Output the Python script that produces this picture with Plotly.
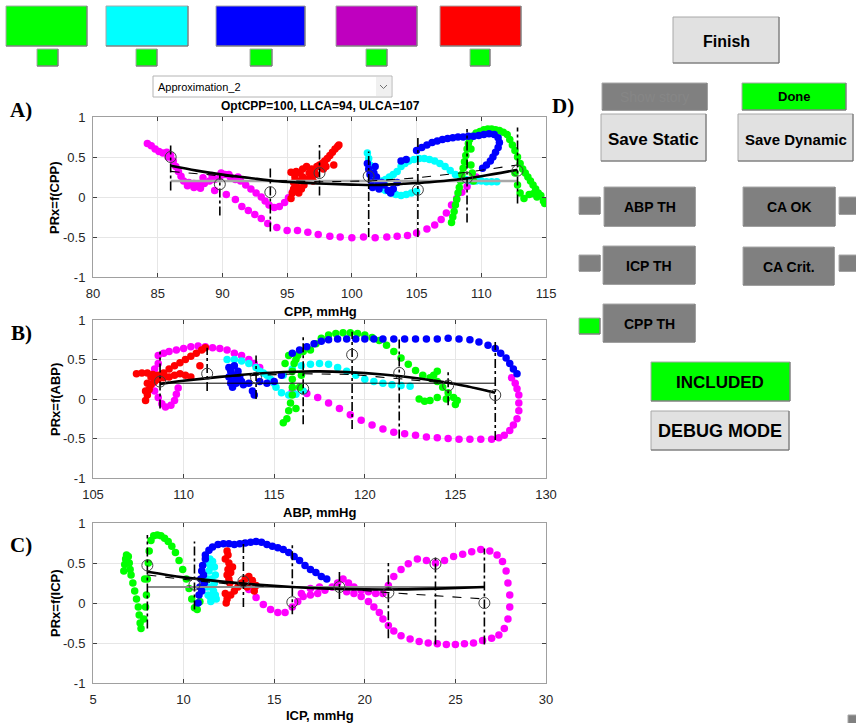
import plotly.graph_objects as go

W, H = 856, 723
SANS = "Liberation Sans, Arial, sans-serif"
SERIF = "Liberation Serif, Times New Roman, serif"

GREEN, CYAN, BLUE, MAGENTA, RED = "#00ff00", "#00ffff", "#0000ff", "#ff00ff", "#ff0000"

# ---------------- Panel A: PRx versus CPP ----------------
A_MAG_X = [84.2, 84.5, 84.8, 85.1, 85.4, 85.7, 86.0, 85.8, 86.2, 86.4, 86.6, 86.8, 87.0, 87.4, 87.8, 88.2,
           88.6, 89.0, 89.4, 89.8, 90.2, 90.6, 91.0, 91.4, 91.8, 92.2, 92.6, 93.0, 93.3, 93.6, 94.0, 94.4,
           94.8, 95.1, 95.4, 95.6, 88.5, 89.2, 89.9, 90.5, 91.2, 87.3, 87.8, 88.3,
           89.4, 90.3, 91.0, 91.5, 92.0, 92.5, 93.0, 93.5, 94.2, 95.0, 95.8, 96.6, 97.4, 98.3, 99.1, 100.0,
           100.9, 101.8, 102.7, 103.5, 104.3, 105.0, 105.8, 106.4, 106.9, 107.3, 107.7, 108.1, 108.5, 108.9,
           109.3, 109.6]
A_MAG_Y = [0.67, 0.64, 0.60, 0.57, 0.55, 0.56, 0.52, 0.50, 0.45, 0.38, 0.32, 0.26, 0.20, 0.18, 0.17, 0.16,
           0.17, 0.20, 0.22, 0.25, 0.28, 0.25, 0.22, 0.20, 0.15, 0.10, 0.05, 0.00, -0.05, -0.10, -0.13, -0.12,
           -0.07, -0.01, 0.06, 0.12, 0.24, 0.27, 0.30, 0.28, 0.25, 0.14, 0.12, 0.11,
           0.08, 0.03, -0.03, -0.12, -0.17, -0.22, -0.27, -0.33, -0.38, -0.42, -0.42, -0.44, -0.47, -0.49, -0.50, -0.51,
           -0.50, -0.51, -0.50, -0.49, -0.48, -0.45, -0.40, -0.35, -0.28, -0.20, -0.10, -0.02, 0.06, 0.13,
           0.20, 0.25]

A_RED_X = [95.3, 95.4, 95.5, 95.5, 95.6, 95.3, 95.7, 96.0, 96.2, 96.0, 96.3, 96.5, 96.7, 96.9, 97.1, 97.3,
           97.5, 97.7, 97.9, 98.1, 98.3, 98.5, 98.7, 98.9, 99.0, 98.6, 97.0, 96.8, 95.8, 96.2, 96.5, 97.2,
           97.8, 98.0, 95.9, 96.1]
A_RED_Y = [-0.02, 0.05, 0.10, 0.18, 0.25, 0.31, 0.32, 0.30, 0.25, 0.20, 0.15, 0.22, 0.30, 0.35, 0.32, 0.38,
           0.40, 0.42, 0.45, 0.48, 0.52, 0.56, 0.60, 0.63, 0.65, 0.40, 0.20, 0.24, 0.12, 0.35, 0.38, 0.28,
           0.35, 0.38, 0.05, 0.10]

A_CYAN_X = [101.2, 101.3, 101.4, 101.5, 101.6, 101.8, 102.0, 102.3, 102.6, 102.9, 103.2, 103.5, 103.8, 104.1,
            104.4, 104.8, 105.2, 105.6, 106.0, 106.4, 106.8, 107.2, 107.6, 108.0, 108.4, 108.8, 109.2, 109.6,
            110.0, 110.4, 110.8, 111.2, 102.6, 103.0, 103.4, 103.8, 104.2, 104.6, 105.0, 102.2, 102.4]
A_CYAN_Y = [0.55, 0.48, 0.40, 0.32, 0.25, 0.20, 0.18, 0.20, 0.22, 0.25, 0.28, 0.32, 0.38, 0.42,
            0.45, 0.47, 0.48, 0.48, 0.47, 0.45, 0.42, 0.38, 0.33, 0.28, 0.24, 0.22, 0.20, 0.20,
            0.20, 0.19, 0.19, 0.19, 0.08, 0.05, 0.03, 0.02, 0.03, 0.05, 0.07, 0.12, 0.10]

A_BLUE_X = [101.2, 101.3, 101.4, 101.5, 101.6, 101.7, 101.8, 101.9, 102.0, 102.1, 102.3, 102.5, 102.8, 103.0,
            103.2, 103.5, 103.8, 104.2, 105.0, 105.4, 105.8, 106.2, 106.6, 107.0, 107.4, 107.8, 108.2, 108.6,
            109.0, 109.4, 109.8, 110.2, 110.6, 111.0, 111.3, 111.4, 111.3, 111.1, 110.9, 110.7, 110.4, 110.1]
A_BLUE_Y = [0.42, 0.35, 0.28, 0.20, 0.12, 0.30, 0.38, 0.25, 0.15, 0.10, 0.18, 0.15, 0.08, 0.05,
            0.10, 0.18, 0.45, 0.47, 0.58, 0.62, 0.65, 0.68, 0.70, 0.72, 0.73, 0.74, 0.75, 0.75,
            0.76, 0.76, 0.77, 0.78, 0.79, 0.78, 0.74, 0.68, 0.62, 0.56, 0.50, 0.45, 0.40, 0.36]

A_GREEN_X = [107.7, 107.8, 107.9, 108.0, 108.1, 108.2, 108.3, 108.4, 108.5, 108.6, 108.7, 108.8, 108.9, 109.0,
             109.1, 109.3, 109.6, 109.9, 110.2, 110.5, 110.8, 111.1, 111.4, 111.7, 112.0, 112.2, 112.4, 112.6,
             112.8, 113.0, 113.2, 113.4, 113.6, 113.8, 114.0, 114.2, 114.4, 114.6, 114.8, 114.9,
             109.2, 109.2, 109.3, 109.4, 112.6, 112.8, 113.0, 113.3, 113.7, 114.0, 114.3]
A_GREEN_Y = [-0.32, -0.25, -0.18, -0.10, -0.03, 0.05, 0.12, 0.20, 0.28, 0.36, 0.44, 0.52, 0.60, 0.67,
             0.72, 0.76, 0.80, 0.82, 0.84, 0.85, 0.85, 0.84, 0.83, 0.81, 0.78, 0.72, 0.65, 0.58,
             0.50, 0.42, 0.35, 0.30, 0.25, 0.20, 0.15, 0.10, 0.05, 0.02, -0.05, -0.08,
             0.60, 0.40, 0.30, 0.20, 0.30, 0.15, 0.05, -0.02, 0.03, 0.04, 0.00]

A_BIN_X = [86.0, 89.8, 93.7, 97.5, 101.3, 105.1, 108.9, 112.8]
A_BIN_MEAN = [0.50, 0.16, 0.06, 0.30, 0.26, 0.09, 0.24, 0.33]
A_BIN_LO = [0.08, -0.23, -0.43, 0.02, -0.50, -0.50, -0.32, -0.08]
A_BIN_HI = [0.68, 0.30, 0.37, 0.65, 0.57, 0.75, 0.85, 0.87]
A_APPROX_Y = [0.32, 0.27, 0.21, 0.19, 0.20, 0.24, 0.31, 0.40]
A_FIT_X = [86.0, 88.0, 90.0, 92.0, 94.0, 96.0, 98.0, 100.0, 102.0, 104.0, 106.0, 108.0, 110.0, 112.8]
A_FIT_Y = [0.39, 0.33, 0.28, 0.24, 0.20, 0.18, 0.165, 0.155, 0.15, 0.165, 0.185, 0.215, 0.26, 0.34]
A_THRESH = 0.2

# ---------------- Panel B: PRx versus ABP ----------------
B_MAG_X = [108.6, 108.9, 109.2, 109.6, 110.0, 110.4, 110.8, 111.2, 111.6, 112.0, 112.4, 112.8, 113.2, 113.6,
           113.9, 114.2, 108.6, 108.4, 108.3, 108.3, 108.4, 108.6, 108.8, 109.0, 109.3, 109.5, 109.6, 109.7,
           116.0, 116.8, 117.4, 118.0, 118.6, 119.2, 119.8, 120.4, 121.0, 121.6, 122.2, 122.8, 123.4, 124.0,
           124.6, 125.2, 125.8, 126.4, 127.0, 127.4, 127.7, 128.0, 128.2, 128.4, 128.5, 128.5, 128.5, 128.4,
           128.3, 128.1]
B_MAG_Y = [0.55, 0.58, 0.60, 0.62, 0.64, 0.66, 0.67, 0.66, 0.65, 0.64, 0.62, 0.58, 0.55, 0.50,
           0.45, 0.40, 0.45, 0.38, 0.30, 0.20, 0.10, 0.02, -0.06, -0.10, -0.08, -0.02, 0.06, 0.14,
           0.10, 0.07, 0.02, -0.05, -0.12, -0.20, -0.27, -0.33, -0.38, -0.42, -0.44, -0.46, -0.48, -0.49,
           -0.50, -0.51, -0.51, -0.51, -0.51, -0.49, -0.46, -0.40, -0.33, -0.25, -0.15, -0.05, 0.05, 0.13,
           0.20, 0.27]

B_RED_X = [107.4, 107.7, 108.0, 108.3, 108.6, 108.9, 109.2, 109.5, 109.8, 110.1, 110.4, 110.7, 111.0, 111.2,
           107.9, 108.0, 108.1, 108.2, 108.4, 108.6, 108.9, 109.2, 109.5, 109.8, 110.1, 110.4, 110.9, 108.0,
           108.2, 107.9]
B_RED_Y = [0.32, 0.33, 0.33, 0.31, 0.30, 0.33, 0.38, 0.42, 0.46, 0.50, 0.54, 0.58, 0.62, 0.65,
           -0.02, 0.05, 0.12, 0.18, 0.22, 0.25, 0.27, 0.28, 0.30, 0.32, 0.30, 0.28, 0.42, 0.20,
           0.28, 0.10]

B_CYAN_X = [112.4, 112.8, 113.2, 113.6, 114.0, 114.4, 114.8, 115.1, 115.4, 115.8, 116.2, 116.6, 116.0, 116.5,
            117.0, 117.5, 118.0, 118.5, 119.0, 119.5, 120.0, 120.5, 121.0, 121.5, 122.0, 122.5, 114.2, 114.6,
            115.0, 115.5]
B_CYAN_Y = [0.50, 0.50, 0.48, 0.45, 0.40, 0.33, 0.25, 0.15, 0.08, 0.05, 0.06, 0.10, 0.38, 0.42,
            0.44, 0.45, 0.44, 0.40, 0.35, 0.30, 0.25, 0.22, 0.20, 0.18, 0.17, 0.16, 0.35, 0.30,
            0.20, 0.30]

B_BLUE_X = [112.5, 112.6, 112.7, 112.8, 112.9, 112.6, 112.8, 113.0, 113.1, 113.2, 113.3, 112.5, 112.7, 113.6,
            113.8, 113.9, 114.2, 114.6, 115.0, 115.4, 116.0, 116.4, 116.8, 117.2, 117.6, 118.0, 118.5, 119.0,
            119.5, 120.0, 120.5, 121.0, 121.6, 122.2, 122.8, 123.4, 124.0, 124.6, 125.2, 125.8, 126.3, 126.8,
            127.2, 127.5, 127.8, 128.0, 128.2, 128.4]
B_BLUE_Y = [0.40, 0.35, 0.30, 0.25, 0.20, 0.20, 0.42, 0.35, 0.28, 0.22, 0.18, 0.28, 0.15, 0.20,
            0.10, 0.05, 0.22, 0.20, 0.22, 0.30, 0.58, 0.62, 0.66, 0.70, 0.73, 0.75, 0.76, 0.76,
            0.76, 0.76, 0.76, 0.76, 0.76, 0.76, 0.76, 0.76, 0.76, 0.77, 0.76, 0.75, 0.72, 0.68,
            0.64, 0.58, 0.52, 0.45, 0.38, 0.32]

B_GREEN_X = [115.5, 115.7, 115.8, 115.9, 116.0, 116.0, 116.0, 116.0, 116.1, 116.3, 116.6, 117.0, 117.3, 117.6,
             118.0, 118.4, 118.8, 119.2, 119.6, 120.0, 120.4, 120.8, 121.2, 121.6, 122.0, 122.4, 122.8, 123.2,
             123.6, 124.0, 124.3, 124.6, 124.9, 125.1, 115.6, 115.8, 116.2, 116.5, 116.4, 116.2, 123.0, 123.3,
             123.6, 124.0, 123.8, 124.0, 124.5, 125.0]
B_GREEN_Y = [-0.30, -0.25, -0.15, -0.05, 0.05, 0.15, 0.25, 0.35, 0.45, 0.55, 0.60, 0.62, 0.70, 0.77,
             0.81, 0.83, 0.84, 0.84, 0.83, 0.81, 0.78, 0.74, 0.68, 0.60, 0.52, 0.44, 0.36, 0.30,
             0.27, 0.22, 0.15, 0.08, 0.02, -0.02, 0.45, 0.55, 0.50, 0.30, 0.15, -0.12, 0.00, -0.03,
             -0.02, 0.02, 0.30, 0.35, 0.00, -0.07]

B_BIN_X = [108.7, 111.3, 114.0, 116.6, 119.3, 121.9, 124.6, 127.2]
B_BIN_MEAN = [0.22, 0.32, 0.27, 0.13, 0.56, 0.33, 0.17, 0.05]
B_BIN_LO = [-0.12, 0.10, 0.00, -0.32, -0.38, -0.50, -0.08, -0.52]
B_BIN_HI = [0.60, 0.65, 0.55, 0.82, 0.85, 0.77, 0.35, 0.72]
B_APPROX_Y = [0.20, 0.27, 0.30, 0.32, 0.31, 0.26, 0.20, 0.09]
B_FIT_X = [108.7, 110.0, 112.0, 114.0, 116.0, 117.5, 119.0, 121.0, 123.0, 125.0, 127.2]
B_FIT_Y = [0.19, 0.23, 0.28, 0.32, 0.345, 0.35, 0.34, 0.31, 0.26, 0.19, 0.08]
B_THRESH = 0.2

# ---------------- Panel C: PRx versus ICP ----------------
C_GREEN_X = [6.70, 6.75, 6.80, 6.85, 6.95, 7.00, 7.05, 7.10, 7.20, 7.30, 7.40, 7.50, 7.55, 7.60, 7.65, 7.80,
             7.90, 7.95, 8.00, 8.05, 8.10, 8.20, 8.35, 8.55, 8.75, 8.95, 9.15, 9.35, 9.55, 9.75, 9.95, 10.15,
             10.30, 10.45, 10.60, 10.75, 10.90, 7.85]
C_GREEN_Y = [0.40, 0.48, 0.55, 0.60, 0.58, 0.50, 0.42, 0.35, 0.25, 0.15, 0.05, -0.05, -0.15, -0.25, -0.32, -0.20,
             -0.05, 0.10, 0.30, 0.50, 0.65, 0.78, 0.84, 0.85, 0.84, 0.81, 0.77, 0.71, 0.63, 0.53, 0.42, 0.30,
             0.18, 0.05, -0.06, -0.08, 0.02, 0.30]

C_CYAN_X = [11.30, 11.45, 11.60, 11.70, 11.75, 11.70, 11.65, 11.60, 11.50, 11.35, 11.30, 11.35, 11.40, 11.50,
            11.55, 11.50, 11.45, 11.80, 11.75]
C_CYAN_Y = [0.50, 0.55, 0.52, 0.45, 0.35, 0.25, 0.15, 0.05, 0.02, 0.10, 0.20, 0.30, 0.40, 0.45,
            0.30, 0.20, 0.08, 0.05, 0.10]

C_BLUE_X = [10.80, 10.85, 10.90, 10.95, 11.00, 11.05, 11.10, 11.15, 11.00, 11.20, 11.20, 11.40, 11.60, 11.90,
            12.20, 12.50, 12.80, 13.10, 13.40, 13.70, 14.00, 14.30, 14.60, 14.90, 15.20, 15.50, 15.80, 16.10,
            16.40, 16.70, 17.00, 17.30, 17.60, 17.90]
C_BLUE_Y = [0.00, 0.10, 0.20, 0.30, 0.40, 0.47, 0.35, 0.25, 0.15, 0.55, 0.60, 0.66, 0.70, 0.73,
            0.74, 0.74, 0.73, 0.74, 0.75, 0.76, 0.77, 0.76, 0.73, 0.71, 0.69, 0.67, 0.63, 0.58,
            0.53, 0.47, 0.42, 0.38, 0.33, 0.30]

C_RED_X = [12.30, 12.40, 12.45, 12.50, 12.45, 12.40, 12.50, 12.60, 12.55, 12.30, 12.40, 12.35, 12.60, 12.80,
           13.00, 13.20, 13.40, 13.60, 13.80, 14.00, 13.90, 13.50, 12.70]
C_RED_Y = [0.55, 0.65, 0.60, 0.50, 0.42, 0.35, 0.30, 0.38, 0.25, 0.12, 0.05, 0.00, 0.10, 0.15,
           0.20, 0.25, 0.30, 0.33, 0.28, 0.22, 0.15, 0.20, 0.45]

C_MAG_X = [13.6, 14.0, 14.4, 14.8, 15.2, 15.6, 16.0, 16.3, 16.6, 17.0, 17.4, 17.8, 18.2, 18.5, 18.8, 19.1,
           19.4, 19.8, 20.2, 20.6, 21.0, 21.3, 21.6, 22.0, 22.4, 22.9, 23.4, 23.9, 24.4, 24.9, 25.4, 25.9,
           26.4, 26.9, 27.3, 27.6, 27.8, 27.9, 28.0, 28.0, 27.9, 27.7, 27.4, 27.0, 26.5, 26.0, 25.5, 25.0,
           24.5, 24.0, 23.5, 23.0, 22.5, 22.0, 21.6, 21.3, 21.0, 20.8, 20.5, 20.2, 19.8, 19.4, 19.0, 16.5,
           17.0, 17.5]
C_MAG_Y = [0.17, 0.07, -0.02, -0.08, -0.12, -0.12, -0.05, 0.02, 0.08, 0.10, 0.12, 0.16, 0.20, 0.25, 0.30, 0.25,
           0.20, 0.16, 0.14, 0.12, 0.12, 0.22, 0.33, 0.42, 0.49, 0.55, 0.53, 0.50, 0.53, 0.58, 0.61, 0.64,
           0.67, 0.65, 0.60, 0.52, 0.40, 0.25, 0.10, -0.05, -0.20, -0.32, -0.40, -0.44, -0.47, -0.50, -0.51, -0.52,
           -0.52, -0.51, -0.50, -0.48, -0.45, -0.41, -0.35, -0.28, -0.20, -0.12, -0.05, 0.02, 0.08, 0.12, 0.14, 0.12,
           0.18, 0.20]

C_BIN_X = [8.0, 10.6, 13.3, 16.0, 18.6, 21.3, 23.9, 26.6]
C_BIN_MEAN = [0.47, 0.23, 0.27, 0.01, 0.20, 0.13, 0.49, 0.00]
C_BIN_LO = [-0.32, -0.08, -0.05, -0.14, 0.05, -0.44, -0.52, -0.52]
C_BIN_HI = [0.85, 0.77, 0.78, 0.73, 0.40, 0.50, 0.60, 0.68]
C_APPROX_Y = [0.35, 0.28, 0.22, 0.20, 0.18, 0.13, 0.09, 0.05]
C_FIT_X = [8.0, 10.0, 12.0, 14.0, 16.0, 18.0, 20.0, 22.0, 24.0, 26.6]
C_FIT_Y = [0.39, 0.32, 0.27, 0.23, 0.20, 0.18, 0.17, 0.17, 0.18, 0.20]
C_THRESH = 0.2

Y_TICKS = [-1, -0.5, 0, 0.5, 1]
Y_TICK_TEXT = ["-1", "-0.5", "0", "0.5", "1"]

# ---------------- figure ----------------
fig = go.Figure()


def add_panel(k, series, bin_x, bin_mean, bin_lo, bin_hi, approx_y, fit_x, fit_y, thresh, thresh_style):
    xa, ya = ("x" if k == 1 else f"x{k}"), ("y" if k == 1 else f"y{k}")
    for xs, ys, col in series:
        fig.add_trace(go.Scatter(x=xs, y=ys, mode="markers", xaxis=xa, yaxis=ya,
                                 marker=dict(color=col, size=7.5, line=dict(width=0))))
    fig.add_trace(go.Scatter(x=[bin_x[0], bin_x[-1]], y=[thresh, thresh], mode="lines",
                             xaxis=xa, yaxis=ya, line=thresh_style))
    ex, ey = [], []
    for bx, lo, hi in zip(bin_x, bin_lo, bin_hi):
        ex += [bx, bx, None]
        ey += [lo, hi, None]
    fig.add_trace(go.Scatter(x=ex, y=ey, mode="lines", xaxis=xa, yaxis=ya,
                             line=dict(color="black", width=1.6, dash="dashdot")))
    fig.add_trace(go.Scatter(x=bin_x, y=approx_y, mode="lines", xaxis=xa, yaxis=ya,
                             line=dict(color="black", width=1.1, dash="dash")))
    fig.add_trace(go.Scatter(x=fit_x, y=fit_y, mode="lines", xaxis=xa, yaxis=ya,
                             line=dict(color="black", width=2.6, shape="spline")))
    fig.add_trace(go.Scatter(x=bin_x, y=bin_mean, mode="markers", xaxis=xa, yaxis=ya,
                             marker=dict(symbol="circle-open", size=11, color="#404040",
                                         line=dict(width=1, color="#404040"))))


add_panel(1, [(A_MAG_X, A_MAG_Y, MAGENTA), (A_CYAN_X, A_CYAN_Y, CYAN), (A_GREEN_X, A_GREEN_Y, GREEN),
              (A_BLUE_X, A_BLUE_Y, BLUE), (A_RED_X, A_RED_Y, RED)],
          A_BIN_X, A_BIN_MEAN, A_BIN_LO, A_BIN_HI, A_APPROX_Y, A_FIT_X, A_FIT_Y, A_THRESH,
          dict(color="#a8a8a8", width=2.5))
add_panel(2, [(B_MAG_X, B_MAG_Y, MAGENTA), (B_CYAN_X, B_CYAN_Y, CYAN), (B_GREEN_X, B_GREEN_Y, GREEN),
              (B_BLUE_X, B_BLUE_Y, BLUE), (B_RED_X, B_RED_Y, RED)],
          B_BIN_X, B_BIN_MEAN, B_BIN_LO, B_BIN_HI, B_APPROX_Y, B_FIT_X, B_FIT_Y, B_THRESH,
          dict(color="black", width=1))
add_panel(3, [(C_MAG_X, C_MAG_Y, MAGENTA), (C_CYAN_X, C_CYAN_Y, CYAN), (C_GREEN_X, C_GREEN_Y, GREEN),
              (C_BLUE_X, C_BLUE_Y, BLUE), (C_RED_X, C_RED_Y, RED)],
          C_BIN_X, C_BIN_MEAN, C_BIN_LO, C_BIN_HI, C_APPROX_Y, C_FIT_X, C_FIT_Y, C_THRESH,
          dict(color="#8c8c8c", width=1.8))

# axes boxes in pixel positions of the window
X0, X1 = 93, 546
PANEL_ROWS = [(117, 277), (320, 478), (523, 683)]
X_RANGES = [[80, 115], [105, 130], [5, 30]]

axis_style = dict(showline=True, linecolor="#a0a0a0", linewidth=1, mirror="ticks", ticks="inside",
                  ticklen=4, tickcolor="#404040", showgrid=True, gridcolor="#e6e6e6", gridwidth=1,
                  zeroline=False, tickfont=dict(family=SANS, size=13, color="#262626"),
                  ticklabelstandoff=4, fixedrange=True, automargin=False)

layout_axes = {}
for i, ((top, bot), xr) in enumerate(zip(PANEL_ROWS, X_RANGES), start=1):
    sx = "" if i == 1 else str(i)
    layout_axes[f"xaxis{sx}"] = dict(axis_style, domain=[X0 / W, X1 / W], range=xr, dtick=5,
                                     anchor=f"y{sx}")
    layout_axes[f"yaxis{sx}"] = dict(axis_style, domain=[1 - bot / H, 1 - top / H], range=[-1, 1],
                                     tickvals=Y_TICKS, ticktext=Y_TICK_TEXT, anchor=f"x{sx}")

shapes, annotations = [], []


def px(x):
    return x / W


def py(y):
    return 1 - y / H


def box(x0, y0, x1, y1, fill, edge="#a8a8a8", shade="#6e6e6e"):
    shapes.append(dict(type="rect", xref="paper", yref="paper", x0=px(x0), x1=px(x1), y0=py(y1), y1=py(y0),
                       fillcolor=fill, line=dict(color=edge, width=1), layer="above"))
    if shade:
        shapes.append(dict(type="path", xref="paper", yref="paper",
                           path=f"M {px(x0)} {py(y1)} L {px(x1)} {py(y1)} L {px(x1)} {py(y0)}",
                           line=dict(color=shade, width=1), layer="above"))


def text(x, y, s, size, bold=True, color="black", family=SANS, angle=0):
    annotations.append(dict(x=px(x), y=py(y), xref="paper", yref="paper", showarrow=False,
                            text=f"<b>{s}</b>" if bold else s, textangle=angle,
                            font=dict(family=family, size=size, color=color),
                            xanchor="center", yanchor="middle"))


# colour selector buttons with their small state indicators
for (x0, x1, col), (s0, s1) in zip(
        [(6, 87, "#00ff00"), (106, 188, "#00ffff"), (216, 305, "#0000ff"), (336, 417, "#bf00bf"),
         (440, 521, "#ff0000")],
        [(37, 58), (136, 157), (250, 272), (366, 387), (470, 490)]):
    box(x0, 6, x1, 46, col)
    box(s0, 49, s1, 66, "#00ff00")

# approximation drop-down
box(153, 76, 392, 97, "white", edge="#b4b4b4", shade=None)
shapes.append(dict(type="rect", xref="paper", yref="paper", x0=px(376), x1=px(391), y0=py(96), y1=py(77),
                   fillcolor="#f0f0f0", line=dict(width=0), layer="above"))
shapes.append(dict(type="path", xref="paper", yref="paper",
                   path=f"M {px(380)} {py(85)} L {px(383.5)} {py(88.5)} L {px(387)} {py(85)}",
                   line=dict(color="#707070", width=1), layer="above"))
annotations.append(dict(x=px(156), y=py(87), xref="paper", yref="paper", showarrow=False,
                        text="Approximation_2", xanchor="left", yanchor="middle",
                        font=dict(family=SANS, size=11, color="black")))

# right-hand control panel
box(673, 17, 779, 63, "#e1e1e1")
text(726, 41, "Finish", 16)
box(602, 83, 707, 110, "#808080")
text(654, 97, "Show story", 14, bold=False, color="#868686")
box(742, 83, 846, 110, "#00ff00")
text(794, 97, "Done", 13)
box(601, 114, 706, 161, "#e1e1e1")
text(653, 139, "Save Static", 17)
box(738, 114, 853, 161, "#e1e1e1")
text(796, 139, "Save Dynamic", 15)

for (x0, x1), y0, y1, label in [((604, 695), 187, 226, "ABP TH"), ((603, 695), 246, 284, "ICP TH"),
                                ((603, 695), 304, 342, "CPP TH"), ((743, 835), 187, 226, "CA OK"),
                                ((743, 834), 247, 285, "CA Crit.")]:
    box(x0, y0, x1, y1, "#808080")
    text((x0 + x1) / 2, (y0 + y1) / 2 + 1, label, 14)

box(579, 197, 600, 214, "#808080")
box(579, 255, 600, 271, "#808080")
box(579, 318, 600, 334, "#00ff00")
box(839, 197, 858, 214, "#808080")
box(839, 255, 858, 271, "#808080")
box(848, 715, 858, 725, "#808080")

box(651, 362, 790, 401, "#00ff00")
text(720, 382, "INCLUDED", 17)
box(651, 411, 789, 450, "#e1e1e1")
text(720, 431, "DEBUG MODE", 18)

# panel letters
text(21, 110, "A)", 21, family=SERIF)
text(21, 333, "B)", 21, family=SERIF)
text(21, 545, "C)", 21, family=SERIF)
text(563, 106, "D)", 21, family=SERIF)

# titles and axis labels
text(320, 106, "OptCPP=100, LLCA=94, ULCA=107", 12)
text(320, 311, "CPP, mmHg", 13)
text(320, 512, "ABP, mmHg", 13)
text(320, 715, "ICP, mmHg", 13)
text(55, 197, "PRx=f(CPP)", 13, angle=-90)
text(55, 399, "PRx=f(ABP)", 13, angle=-90)
text(55, 603, "PRx=f(ICP)", 13, angle=-90)

fig.update_layout(width=W, height=H, margin=dict(l=0, r=0, t=0, b=0), autosize=False,
                  paper_bgcolor="white", plot_bgcolor="white", showlegend=False,
                  shapes=shapes, annotations=annotations, **layout_axes)

# let the figure fill the page edge to edge
page_setup = ("document.body.style.margin='0';document.body.style.padding='0';"
              "document.documentElement.style.overflow='hidden';")
fig.write_html("out.html", config={"displayModeBar": False, "staticPlot": True}, post_script=page_setup)
